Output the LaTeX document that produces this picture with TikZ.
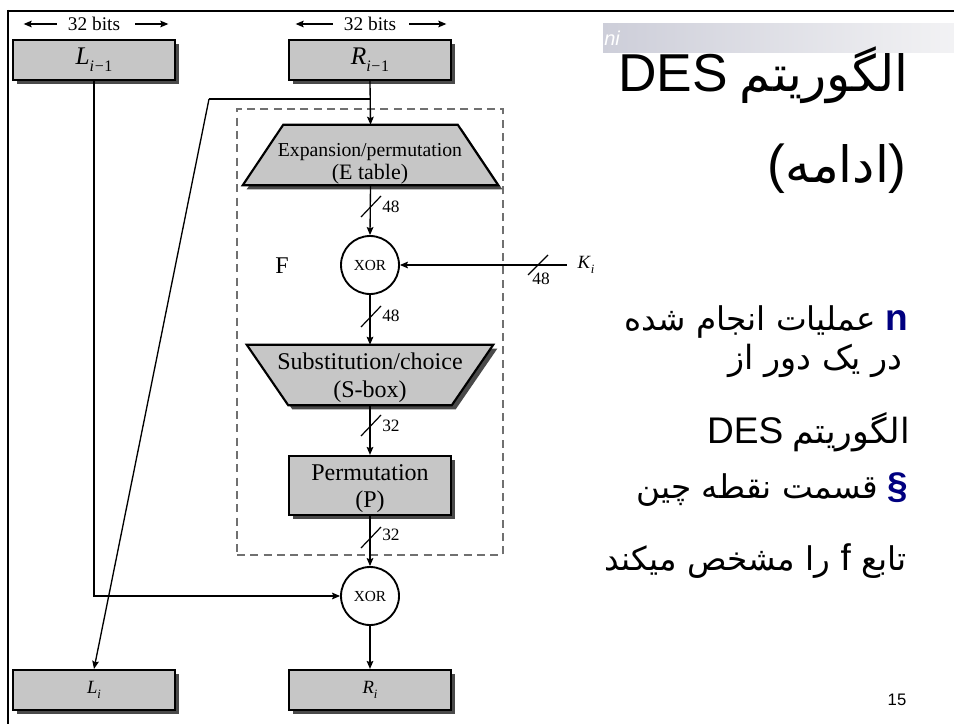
\documentclass[tikz,border=0pt]{standalone}
\usepackage{fontspec}
\setmainfont{Liberation Serif}
\newfontfamily\sffam{Liberation Sans}
\newfontfamily\arabicfont[Script=Arabic]{DejaVu Sans}
\TeXXeTstate=1
\usetikzlibrary{calc,arrows.meta,shadows}

\definecolor{boxgray}{HTML}{C6C6C6}
\definecolor{shadowgray}{HTML}{4A4A4A}
\definecolor{dashgray}{HTML}{707070}
\definecolor{bulletblue}{HTML}{000080}
\definecolor{barleft}{HTML}{CDCED9}
\definecolor{barright}{HTML}{F2F2F4}

% lowered subscript in a smaller size
\newcommand\lowsub[2][12]{\raisebox{-0.28em}{\fontsize{#1}{#1}\selectfont #2}}
\newcommand\fsz[1]{\fontsize{#1}{#1}\selectfont}

\begin{document}
\begin{tikzpicture}[x=0.75pt,y=-0.75pt,
  wire/.style={line width=1pt, draw=black},
  flow/.style={wire, -{Stealth[length=6pt,width=5pt,inset=1pt]}},
  tickmark/.style={line width=0.9pt},
  buslbl/.style={font=\fsz{13}, inner sep=0pt},
  shade3/.style={drop shadow={shadow xshift=3pt, shadow yshift=-3pt, fill=shadowgray, opacity=1}},
  regbox/.style={rectangle, draw, line width=1.6pt, fill=boxgray, shade3,
    minimum width=121.5pt, minimum height=30pt, inner sep=0pt},
  xorc/.style={circle, draw, line width=1.4pt, fill=white, minimum size=43.5pt,
    inner sep=0pt, font=\fsz{11.5}},
  frame/.style={rectangle, inner sep=0pt, draw=none},
  trapfill/.style={fill=boxgray, draw=black, line width=1.6pt},
  bartext/.style={font=\fsz{14.5}, inner sep=0pt},
  slide/.style={anchor=base east, inner sep=0pt}
]
\useasboundingbox (0,0) rectangle (954,724);
\fill[white] (0,0) rectangle (954,724);

% slide frame and title bar
\draw[line width=2.2pt] (7,11) -- (954,11);
\draw[line width=2.2pt] (8,10) -- (8,724);
\shade[left color=barleft, right color=barright] (603,24) rectangle (954,53);
\node[anchor=west, text=white, font=\sffam\itshape\fsz{15}, inner sep=0pt] (tag) at (604,38) {ni};

% dashed outline of the round function F
\node[frame, draw=dashgray, dash pattern=on 6pt off 4pt, line width=1.2pt,
  minimum width=199.5pt, minimum height=334.5pt] (fbox) at (370,332) {};
\node[font=\fsz{18}] (Flbl) at (282,266) {F};

% input and output halves
\node[regbox, font=\fsz{19}] (Lin) at (94,60) {\textit{L}\lowsub{\textit{i}\kern0.5pt−\kern0.5pt1}};
\node[regbox, font=\fsz{19}] (Rin) at (370,60) {\textit{R}\lowsub{\textit{i}\kern0.5pt−\kern0.5pt1}};
\node[regbox, font=\fsz{14}] (Lout) at (94,690) {\textit{L}\lowsub[9.5]{\textit{i}}};
\node[regbox, font=\fsz{14}] (Rout) at (370,690) {\textit{R}\lowsub[9.5]{\textit{i}}};

% width annotations
\node[bartext] (wl) at (94,24) {32 bits};
\node[bartext] (wr) at (370,24) {32 bits};
\draw[flow] ($(wl.west)+(-11,0)$) -- ++(-33,0);
\draw[flow] ($(wl.east)+(15,0)$) -- ++(33,0);
\draw[flow] ($(wr.west)+(-11,0)$) -- ++(-37,0);
\draw[flow] ($(wr.east)+(13,0)$) -- ++(37,0);

% expansion stage
\node[frame, minimum width=191.25pt, minimum height=45pt] (E) at (370.5,155) {};
\fill[shadowgray] ($(E.south west)+(4,4)$) -- ($(E.south east)+(4,4)$)
  -- ($(E.north east)+(-36.5,4)$) -- ($(E.north west)+(44.5,4)$) -- cycle;
\path[trapfill] (E.south west) -- (E.south east) -- ($(E.north east)+(-40.5,0)$)
  -- ($(E.north west)+(40.5,0)$) -- cycle;
\node[font=\fsz{14.8}, inner sep=0pt] (Etxt1) at (370,152) {Expansion/permutation};
\node[font=\fsz{16.5}, inner sep=0pt] (Etxt2) at (370,174) {(E table)};

% key mixing
\node[xorc] (X1) at (370,265) {XOR};
\node[font=\fsz{14}, inner xsep=8pt, inner ysep=0pt] (K) at (586,265) {\textit{K}\lowsub[9.5]{\textit{i}}};

% substitution stage
\node[frame, minimum width=184.5pt, minimum height=45pt] (S) at (370,375) {};
\fill[shadowgray] ($(S.north west)+(4,4)$) -- ($(S.north east)+(4,4)$)
  -- ($(S.south east)+(-41.5+4,4)$) -- ($(S.south west)+(41.5+4,4)$) -- cycle;
\path[trapfill] (S.north west) -- (S.north east) -- ($(S.south east)+(-41.5,0)$)
  -- ($(S.south west)+(41.5,0)$) -- cycle;
\node[font=\fsz{18}, inner sep=0pt] (Stxt1) at (370,361) {Substitution/choice};
\node[font=\fsz{18}, inner sep=0pt] (Stxt2) at (370,392) {(S-box)};

% permutation stage
\node[regbox, minimum height=44.25pt] (P) at (370,485.5) {};
\node[font=\fsz{18}, inner sep=0pt] (Ptxt1) at (370,473) {Permutation};
\node[font=\fsz{18}, inner sep=0pt] (Ptxt2) at (370,502) {(P)};

% output mixing
\node[xorc] (X2) at (370,596) {XOR};

% connectors
\draw[flow] (Rin.south) -- (E.north);
\coordinate (br) at (370,99);
\coordinate (bk) at (209,99);
\draw[wire] (br) -- (bk);
\draw[flow] (bk) -- (Lout.north);
\draw[flow] (Lin.south) |- (X2.west);
\draw[flow] (E.south) -- (X1.north);
\draw[flow] (K.west) -- (X1.east);
\draw[flow] (X1.south) -- (S.north);
\draw[flow] (S.south) -- (P.north);
\draw[flow] (P.south) -- (X2.north);
\draw[flow] (X2.south) -- (Rout.north);

% bus width marks
\coordinate (t1) at (370,206);
\coordinate (t2) at (370,316);
\coordinate (t3) at (370,425);
\coordinate (t4) at (370,537);
\coordinate (tk) at (538,265);
\foreach \c in {t1,t2,t3,t4}{
  \draw[tickmark] ($(\c)+(-9,11)$) -- ($(\c)+(11,-10)$);
}
\draw[tickmark] ($(tk)+(-10,10)$) -- ($(tk)+(10,-10)$);
\node[buslbl, anchor=west] (b1) at ($(t1)+(12,1)$) {48};
\node[buslbl, anchor=west] (b2) at ($(t2)+(12,0)$) {48};
\node[buslbl, anchor=west] (b3) at ($(t3)+(12,1)$) {32};
\node[buslbl, anchor=west] (b4) at ($(t4)+(12,-2)$) {32};
\node[buslbl] (bk48) at ($(tk)+(3,14)$) {48};

% slide text
\node[slide] (title1) at (909,92)
  {{\sffam\fsz{40}DES}\fsz{36}\ {\arabicfont\fsz{37.5}\beginR الگوریتم\endR}};
\node[slide] (title2) at (907,182)
  {{\sffam\fsz{40}(}{\arabicfont\fsz{37.5}\beginR ادامه\endR}{\sffam\fsz{40})}};

\node[slide] (p1) at (908,330)
  {{\arabicfont\fsz{24.5}\beginR عملیات انجام شده\endR}\fsz{27.8}\ {\sffam\bfseries\color{bulletblue}n}};
\node[slide] (p2) at (903,369)
  {{\arabicfont\fsz{25}\beginR در یک دور از\endR}};
\node[slide] (p3) at (910,443)
  {{\sffam\fsz{27.8}DES}\fsz{27.8}\ {\arabicfont\fsz{26}\beginR الگوریتم\endR}};
\node[slide] (p4) at (908,498)
  {{\arabicfont\fsz{24.5}\beginR قسمت نقطه چین\endR}\fsz{27.8}\ {\sffam\bfseries\color{bulletblue}\S}};
\node[slide] (p5) at (907,570)
  {{\arabicfont\fsz{24.5}\beginR تابع {\sffam\fsz{27.8}f} را مشخص میکند\endR}};

\node[anchor=base, inner sep=0pt, font=\sffam\fsz{12.5}] (pg) at (897,705) {15};
\end{tikzpicture}
\end{document}
